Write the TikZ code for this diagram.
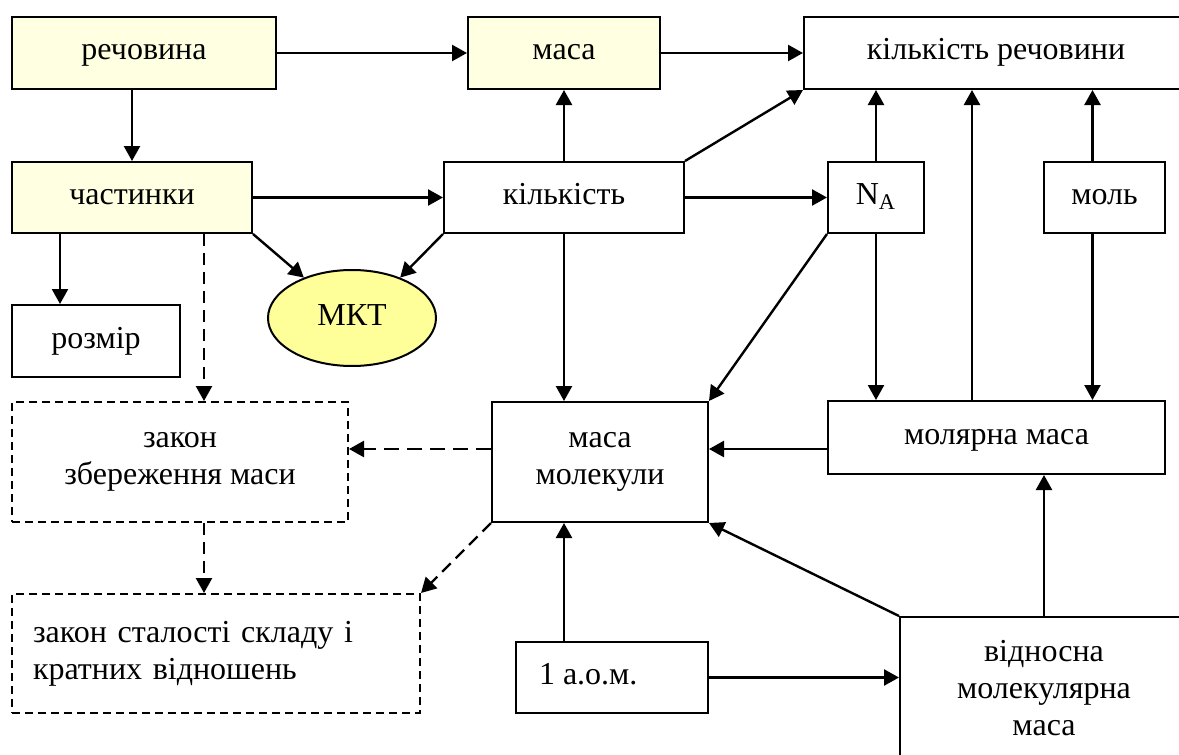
\documentclass[tikz,border=0pt]{standalone}
\usepackage{fontspec}
\setmainfont{Liberation Serif}
\usetikzlibrary{arrows.meta,shapes.geometric}
\definecolor{pale}{HTML}{FFFFE1}
\definecolor{mktc}{HTML}{FFFF99}

\begin{document}
\begin{tikzpicture}[x=0.5pt,y=-0.5pt,
  font=\fontsize{16pt}{18.5pt}\selectfont,
  base/.style={draw,line width=1pt,inner sep=0pt},
  box/.style={base,text height=10pt,text depth=3pt},
  ybox/.style={box,fill=pale},
  mbox/.style={base,align=center},
  dbox/.style={mbox,dash pattern=on 4pt off 2.5pt},
  arr/.style={-{Triangle[length=7.5pt,width=8pt]},line width=1.2pt},
  darr/.style={arr,dash pattern=on 6pt off 3.5pt}]
\useasboundingbox (0,0) rectangle (1179,755);
\clip (0,0) rectangle (1179,755);
% top row
\node[ybox,minimum width=132pt,minimum height=36pt] (rech) at (144,53) {речовина};
\node[ybox,minimum width=96pt,minimum height=36pt] (masa) at (564,53) {маса};
\node[box,minimum width=192pt,minimum height=36pt] (kr) at (996,53) {кількість речовини};
% second row
\node[ybox,minimum width=120pt,minimum height=35.5pt] (chast) at (132,197.5) {частинки};
\node[box,minimum width=120pt,minimum height=35.5pt] (kilk) at (564,197.5) {кількість};
\node[box,minimum width=48pt,minimum height=35.5pt] (na) at (876,197.5) {N\textsubscript{A}};
\node[box,minimum width=60.5pt,minimum height=35.5pt] (mol) at (1104.5,197.5) {моль};
% middle
\node[box,minimum width=84pt,minimum height=36pt] (rozmir) at (96,341) {розмір};
\node[ellipse,draw,line width=1pt,fill=mktc,minimum width=84pt,minimum height=48pt,inner sep=0pt,text height=10pt,text depth=3pt] (mkt) at (352,318) {МКТ};
\node[dbox,minimum width=168pt,minimum height=60pt] (zz) at (180,462) {закон\\збереження маси};
\node[mbox,minimum width=108pt,minimum height=60pt] (mm) at (600,462) {маса\\молекули};
\node[box,minimum width=168.5pt,minimum height=36.5pt] (mmol) at (996.5,437.5) {молярна маса};
% bottom
\node[dbox,minimum width=204pt,minimum height=59.5pt,text width=183pt,align=left] (zs) at (216,653.5) {закон сталості складу і\\кратних відношень};
\node[box,minimum width=96pt,minimum height=35.5pt] (aom) at (612,677.5) {\makebox[73pt][l]{1 а.о.м.}};
\node[mbox,minimum width=144pt,minimum height=71.5pt] (vm) at (1044,688.5) {відносна\\молекулярна\\маса};
% connectors
\draw[arr] (rech) -- (masa);
\draw[arr] (masa) -- (kr);
\draw[arr] (rech.south -| chast) -- (chast.north);
\draw[arr] (chast) -- (kilk);
\draw[arr] (kilk) -- (masa);
\draw[arr] (kilk.north east) -- (kr.south west);
\draw[arr] (kilk) -- (na);
\draw[arr] (na.north) -- (na.north |- kr.south);
\draw[arr] ([xshift=-6pt]mol.north) -- ([xshift=-6pt]mol.north |- kr.south);
\draw[arr] ([xshift=-6pt]mol.south) -- ([xshift=-6pt]mol.south |- mmol.north);
\draw[arr] (na.south) -- (na.south |- mmol.north);
\draw[arr] ([xshift=-12.25pt]mmol.north) -- ([xshift=-12.25pt]mmol.north |- kr.south);
\draw[arr] (kilk.south) -- (kilk.south |- mm.north);
\draw[arr] (na.south west) -- (mm.north east);
\draw[arr] ([yshift=-5.75pt]mmol.west) -- ([yshift=-5.75pt]mmol.west -| mm.east);
\draw[darr,dash pattern=on 7.5pt off 4pt] ([yshift=6.5pt]mm.west) -- ([yshift=6.5pt]mm.west -| zz.east);
\draw[arr] ([xshift=-18pt]rozmir.north |- chast.south) -- ([xshift=-18pt]rozmir.north);
\draw[darr] ([xshift=12pt]zz.north |- chast.south) -- ([xshift=12pt]zz.north);
\draw[darr] ([xshift=12pt]zz.south) -- ([xshift=12pt]zz.south |- zs.north);
\draw[darr] (mm.south west) -- (zs.north east);
\draw[arr] (chast.south east) -- (mkt.140);
\draw[arr] (kilk.south west) -- (mkt.40);
\draw[arr] ([xshift=-18pt]mm.south |- aom.north) -- ([xshift=-18pt]mm.south);
\draw[arr] (aom.east) -- (aom.east -| vm.west);
\draw[arr] (vm.north west) -- (mm.south east);
\draw[arr] (vm.north) -- (vm.north |- mmol.south);
\end{tikzpicture}
\end{document}
